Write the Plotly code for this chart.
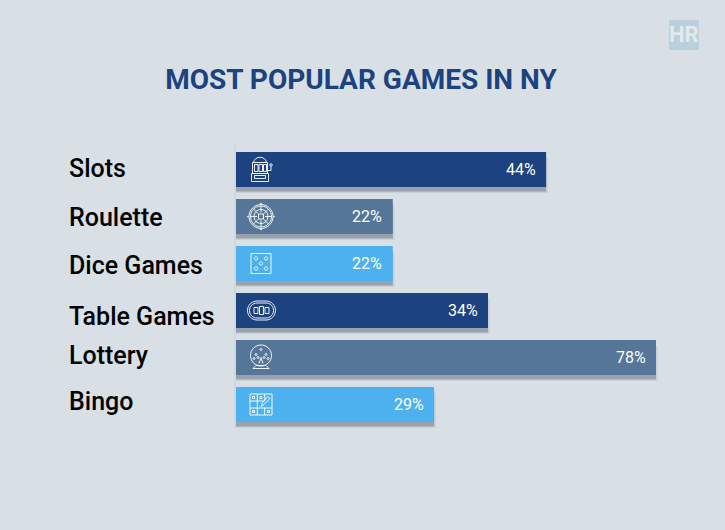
import math
import plotly.graph_objects as go

categories = ["Slots", "Roulette", "Dice Games", "Table Games", "Lottery", "Bingo"]
percent_labels = ["44%", "22%", "22%", "34%", "78%", "29%"]
# Drawn bar lengths (they do not follow the printed labels)
bar_lengths = [44.3, 22.4, 22.4, 36.0, 60.0, 28.3]
bar_colors = ["#1c427f", "#557698", "#4cb1ee", "#1c427f", "#557698", "#4cb1ee"]
label_yshift = [1, -1, -2, -6, 2, 3]

BG = "#d8e0e6"
W, H = 725, 530
L, R, T, B = 236, 27, 143, 102
BAR_PX, STEP_PX = 35, 47
FONT = "Roboto"


def circ(x, y, r):
    k = 0.5523 * r
    return (f"M{x-r},{y} C{x-r},{y+k} {x-k},{y+r} {x},{y+r} C{x+k},{y+r} {x+r},{y+k} {x+r},{y} "
            f"C{x+r},{y-k} {x+k},{y-r} {x},{y-r} C{x-k},{y-r} {x-r},{y-k} {x-r},{y} Z ")


def rect(x0, y0, x1, y1):
    return f"M{x0},{y0} L{x1},{y0} L{x1},{y1} L{x0},{y1} Z "


def line(*pts):
    return "M" + " L".join(f"{x},{y}" for x, y in pts) + " "


def stadium(w, h):
    r = h / 2
    k = 0.5523 * r
    a = w / 2 - r
    return (f"M{-a},{r} L{a},{r} C{a+k},{r} {a+r},{k} {a+r},0 C{a+r},{-k} {a+k},{-r} {a},{-r} "
            f"L{-a},{-r} C{-a-k},{-r} {-a-r},{-k} {-a-r},0 C{-a-r},{k} {-a-k},{r} {-a},{r} Z ")


def icon_slots():
    p = rect(-9, -4, 6, 7) + rect(-10, -12, 7, -4) + rect(-7, -9, 4, -6)
    p += "M-8,7 C-7,14 4,14 5,7 "
    p += rect(-7, -2, -3.5, 5) + rect(-2.5, -2, 1, 5) + rect(2, -2, 5, 5)
    p += line((6, -1), (9.5, -1), (9.5, 3)) + circ(9.5, 4.5, 1.3)
    return p


def icon_roulette():
    p = circ(0, 0, 12) + circ(0, 0, 10.5) + circ(0, 0, 7) + rect(-2.5, -2.5, 2.5, 2.5)
    for i in range(8):
        a = i * math.pi / 4
        p += line((4 * math.cos(a), 4 * math.sin(a)), (10.5 * math.cos(a), 10.5 * math.sin(a)))
    for a in (0, 1, 2, 3):
        t = a * math.pi / 2
        p += circ(13 * math.cos(t), 13 * math.sin(t), 0.5)
    return p


def icon_dice():
    p = rect(-10, -10, 10, 10)
    for x, y in [(-5, 5), (5, 5), (0, 0), (-5, -5), (5, -5)]:
        p += circ(x, y, 1.7)
    return p


def icon_table():
    p = stadium(28, 19) + stadium(24, 15)
    p += rect(-7.5, -3, -3.5, 3) + rect(-2, -4, 2, 4) + rect(3.5, -3, 7.5, 3)
    return p


def icon_lottery():
    p = circ(0, 2, 10.5)
    for x, y in [(0, 8), (-5, 3), (5, 3), (-3, 0), (3, 0), (-7, -1), (7, -1)]:
        p += circ(x, y, 1)
    p += line((-2, -6), (0, 0), (2, -6))
    p += line((-8, -11), (8, -11), (5, -8), (-5, -8), (-8, -11))
    return p


def icon_bingo():
    p = rect(-11, -10.5, 11, 10.5)
    p += line((-11, 3.5), (3.7, 3.5)) + line((-11, -3.5), (11, -3.5))
    p += line((-3.7, -10.5), (-3.7, 10.5)) + line((3.7, -10.5), (3.7, -3.5)) + line((3.7, 3.5), (3.7, 10.5))
    for x, y in [(-7.5, 7), (0, 7), (-7.5, -7), (7.5, -7)]:
        p += rect(x - 1, y - 1, x + 1, y + 1)
    p += line((0, -2), (1.5, 2), (7, 8), (9, 6), (3, 0), (0, -2))
    return p


icons = [(icon_slots, 25.5), (icon_roulette, 25), (icon_dice, 25),
         (icon_table, 25.5), (icon_lottery, 25), (icon_bingo, 25)]

fig = go.Figure()
off = -BAR_PX / STEP_PX / 2
w = BAR_PX / STEP_PX
# soft outer shadow, tight shadow, then the bars
fig.add_bar(y=categories, x=[v + 0.25 for v in bar_lengths], orientation="h", width=w,
            offset=off + 6 / STEP_PX, marker=dict(color="rgba(95,110,125,0.13)", line_width=0),
            hoverinfo="skip", showlegend=False)
fig.add_bar(y=categories, x=bar_lengths, orientation="h", width=w,
            offset=off + 4.5 / STEP_PX, marker=dict(color="rgba(95,105,120,0.45)", line_width=0),
            hoverinfo="skip", showlegend=False)
fig.add_bar(y=categories, x=bar_lengths, orientation="h", width=w, offset=off,
            marker=dict(color=bar_colors, line_width=0), showlegend=False)

shapes = []
for i, (fn, dx) in enumerate(icons):
    shapes.append(dict(type="path", path=fn(), xref="x", yref="y", xsizemode="pixel",
                       ysizemode="pixel", xanchor=dx / 7, yanchor=i,
                       line=dict(color="rgba(255,255,255,0.92)", width=1),
                       fillcolor="rgba(0,0,0,0)", layer="above"))
# logo tile
px = lambda v: (v - L) / (W - L - R)
py = lambda v: 1 - (v - T) / (H - T - B)
shapes.append(dict(type="rect", xref="paper", yref="paper", x0=px(669), x1=px(699),
                   y0=py(50), y1=py(20), fillcolor="#bccfdc", line_width=0))

annotations = []
for c, v, t, ys in zip(categories, bar_lengths, percent_labels, label_yshift):
    annotations.append(dict(x=v, y=c, xref="x", yref="y", text=t, showarrow=False, xanchor="right",
                            xshift=-8.5, font=dict(family=FONT, size=16, color="#ffffff", weight=400)))
    annotations.append(dict(x=0, y=c, xref="x", yref="y", text=c, showarrow=False, xanchor="left",
                            xshift=-169, yshift=ys, font=dict(family=FONT, size=25, color="#000000", weight=500)))
annotations.append(dict(x=px(684), y=py(35), xref="paper", yref="paper", text="<b>HR</b>", showarrow=False,
                        xanchor="center", yanchor="middle",
                        font=dict(family=FONT, size=22, color="#e3e9ed")))

fig.update_layout(
    width=W, height=H, autosize=False, barmode="overlay",
    margin=dict(l=L, r=R, t=T, b=B, pad=0),
    paper_bgcolor=BG, plot_bgcolor=BG,
    title=dict(text="<b>MOST POPULAR GAMES IN NY</b>", x=361 / W, xanchor="center", y=1 - 79 / H,
               yanchor="middle", font=dict(family=FONT, size=28, color="#1c427f")),
    xaxis=dict(range=[0, (W - L - R) / 7], visible=False),
    yaxis=dict(type="category", categoryorder="array", categoryarray=categories,
               range=[5.5, -0.564], showticklabels=False, showgrid=False, ticks="",
               showline=True, linecolor="#cfd8de", linewidth=2, zeroline=False),
    shapes=shapes, annotations=annotations,
)
fig.write_html("out.html", config={"displayModeBar": False},
               post_script="document.body.style.margin='0';document.body.style.overflow='hidden';")
